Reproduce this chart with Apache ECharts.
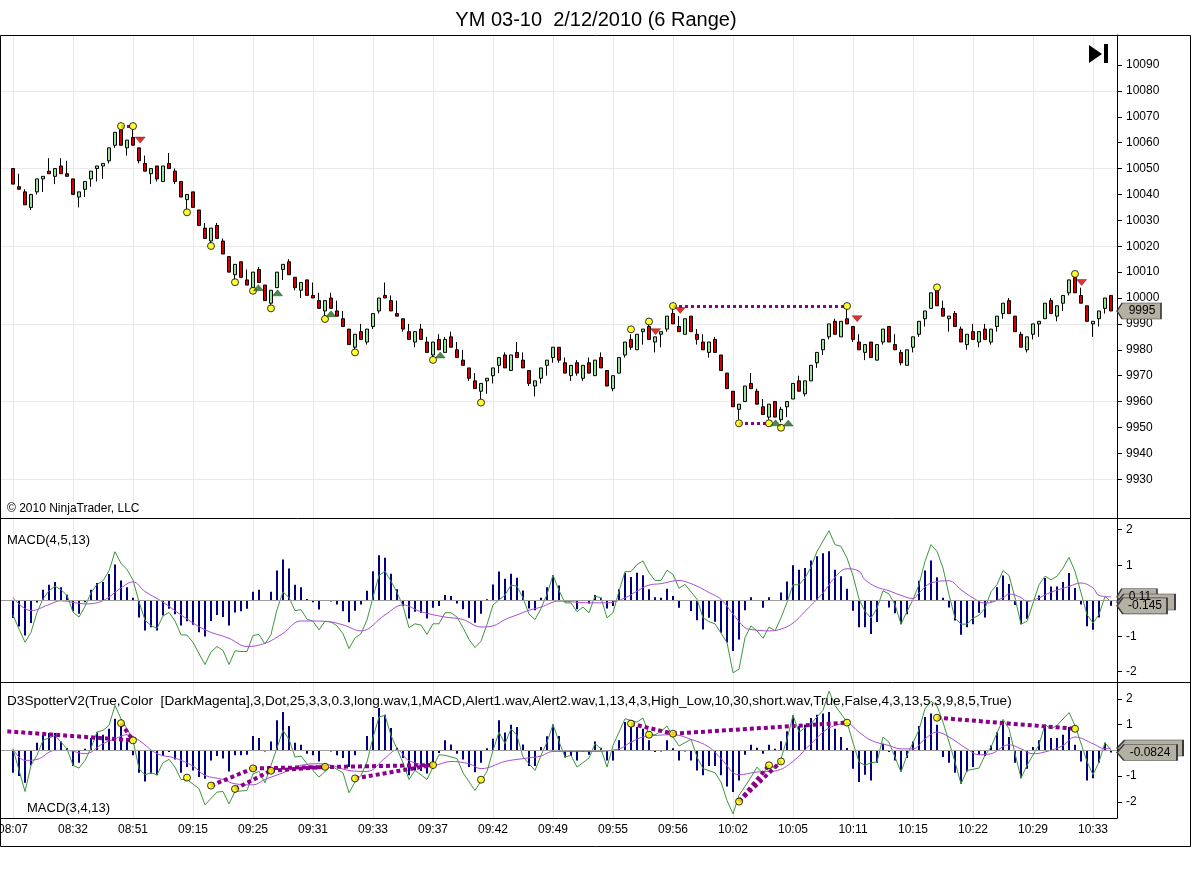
<!DOCTYPE html>
<html><head><meta charset="utf-8">
<script src="https://cdn.jsdelivr.net/npm/echarts@6/dist/echarts.min.js"></script>
<style>html,body{margin:0;padding:0;background:#fff}#c{width:1192px;height:869px}</style>
</head><body><div id="c"></div>
<script>
// ---------- data ----------
const timeLabels = ['08:07','08:32','08:51','09:15','09:25','09:31','09:33','09:37','09:42','09:49','09:55','09:56','10:02','10:05','10:11','10:15','10:22','10:29','10:33'];
const timeTickIndex = [0,10,20,30,40,50,60,70,80,90,100,110,120,130,140,150,160,170,180];
const priceTicks = [9930,9940,9950,9960,9970,9980,9990,10000,10010,10020,10030,10040,10050,10060,10070,10080,10090];
const priceGridValues = [9930,9960,9990,10020,10050,10080];
const macdTicks = [-2,-1,1,2];

const open = [10050,10043,10041,10035,10041,10046,10049,10047,10051,10048,
10046,10039,10042,10046,10050,10051,10053,10059,10065,10058,
10062,10058,10052,10048,10051,10045,10052,10049,10045,10038,
10041,10034,10027,10022,10028,10022,10016,10009,10014,10007,
10004,10011,10005,9998,10004,10011,10014,10008,10003,10007,
10001,9999,9995,10000,9995,9992,9988,9981,9987,9983,
9989,9995,10001,9999,9994,9992,9987,9983,9988,9983,
9978,9984,9979,9985,9980,9976,9973,9968,9964,9968,
9970,9974,9978,9972,9979,9976,9972,9966,9969,9974,
9977,9981,9975,9970,9975,9969,9975,9970,9977,9972,
9965,9971,9978,9984,9980,9987,9989,9983,9986,9988,
9994,9989,9986,9993,9986,9983,9979,9984,9978,9971,
9964,9957,9960,9967,9964,9958,9954,9960,9953,9958,
9961,9968,9963,9968,9975,9980,9985,9991,9985,9992,
9989,9983,9979,9983,9976,9983,9989,9982,9979,9974,
9981,9986,9992,9996,10003,9996,9992,9994,9988,9982,
9987,9983,9988,9983,9989,9994,9999,9993,9986,9980,
9986,9990,9992,9999,9993,9998,10002,10008,10001,9997,
9990,9992,9996,10001];
const close = [10044,10042,10036,10040,10046,10047,10048,10050,10048,10047,
10040,10041,10045,10049,10051,10052,10058,10064,10059,10061,
10059,10053,10049,10050,10046,10051,10050,10045,10039,10040,
10035,10028,10023,10027,10023,10017,10010,10013,10008,10005,
10010,10006,9999,10003,10010,10013,10009,10004,10006,10001,
10000,9996,9999,9996,9993,9989,9982,9986,9984,9988,
9994,10000,10000,9995,9993,9988,9984,9987,9984,9979,
9983,9980,9984,9981,9977,9974,9969,9965,9967,9969,
9973,9977,9973,9978,9977,9973,9967,9968,9973,9976,
9981,9976,9971,9974,9971,9974,9971,9976,9973,9966,
9970,9977,9983,9981,9986,9988,9984,9985,9987,9993,
9990,9987,9992,9987,9984,9980,9983,9979,9972,9965,
9958,9959,9966,9965,9959,9955,9959,9954,9957,9960,
9967,9964,9968,9974,9979,9984,9990,9986,9991,9990,
9984,9980,9982,9977,9982,9988,9983,9980,9975,9980,
9985,9991,9995,10002,9997,9993,9993,9989,9983,9986,
9984,9987,9984,9988,9993,9998,9994,9987,9981,9985,
9990,9991,9998,9994,9997,10001,10007,10002,9998,9991,
9991,9995,10000,9995];
const high = [10050,10048,10042,10040,10046,10047,10054,10050,10054,10053,
10046,10041,10045,10049,10051,10052,10058,10064,10065,10061,
10065,10058,10055,10050,10051,10051,10056,10050,10045,10040,
10041,10034,10029,10027,10029,10023,10016,10013,10014,10011,
10010,10012,10005,10003,10010,10013,10015,10008,10006,10007,
10006,10002,9999,10002,9999,9995,9988,9986,9990,9988,
9994,10000,10006,10001,9999,9992,9990,9987,9990,9985,
9983,9986,9985,9987,9983,9980,9973,9971,9967,9969,
9973,9977,9979,9978,9983,9979,9972,9968,9973,9976,
9981,9981,9977,9974,9976,9974,9977,9976,9979,9972,
9970,9977,9983,9986,9986,9988,9990,9985,9987,9993,
9996,9993,9992,9993,9988,9986,9983,9985,9978,9971,
9964,9959,9966,9971,9965,9961,9959,9960,9958,9960,
9967,9970,9968,9974,9979,9984,9990,9992,9991,9996,
9989,9986,9982,9983,9982,9988,9989,9986,9980,9980,
9985,9991,9995,10002,10003,9999,9993,9995,9989,9986,
9990,9987,9990,9988,9993,9998,10000,9993,9987,9985,
9990,9991,9998,10000,9997,10001,10007,10008,10004,9997,
9991,9995,10000,10001];
const low = [10044,10042,10036,10034,10040,10041,10048,10044,10048,10047,
10040,10035,10039,10043,10045,10046,10052,10058,10059,10055,
10059,10052,10049,10044,10045,10045,10050,10044,10039,10034,
10035,10028,10023,10021,10023,10017,10010,10007,10008,10005,
10004,10006,9999,9997,10004,10007,10009,10003,10000,10001,
10000,9996,9993,9996,9993,9989,9982,9980,9984,9982,
9988,9994,10000,9995,9993,9987,9984,9981,9984,9979,
9977,9980,9979,9981,9977,9974,9968,9965,9961,9963,
9967,9971,9973,9972,9977,9973,9966,9962,9967,9970,
9975,9975,9971,9968,9970,9968,9971,9970,9973,9966,
9964,9971,9977,9980,9980,9982,9984,9979,9981,9987,
9990,9987,9986,9987,9982,9980,9977,9979,9972,9965,
9958,9953,9960,9965,9959,9955,9953,9954,9952,9954,
9961,9964,9962,9968,9973,9978,9984,9986,9985,9990,
9983,9980,9976,9977,9976,9982,9983,9980,9974,9974,
9979,9985,9989,9996,9997,9993,9987,9989,9983,9980,
9984,9981,9984,9982,9987,9992,9994,9987,9981,9979,
9984,9985,9992,9994,9991,9995,10001,10002,9998,9991,
9985,9989,9994,9995];

const priceDots = [[18,10066.4],[20,10066.4],[29,10033.1],[33,10020.1],[37,10006.1],[40,10002.8],[43,9996.0],[52,9991.9],[57,9979.0],[70,9976.1],[78,9959.6],[103,9987.9],[106,9990.9],[110,9996.9],[121,9951.6],[126,9951.6],[128,9949.9],[139,9996.9],[154,10004.1],[177,10009.3]];
const sellSignals = [[21.2,10061.0],[107.1,9987.0],[111.2,9995.2],[140.7,9992.0],[178.1,10006.0]];
const buySignals = [[40.9,10004.0],[44.1,10002.0],[53,9993.9],[71.2,9978.0],[127.1,9951.8],[129.2,9951.7]];
const priceDivLines = [[[18,10066.4],[20,10066.4]],[[110,9996.9],[139,9996.9]],[[121,9951.6],[126,9951.6]]];
const lastPrice = 9995;

// MACD(4,5,13)
const hist2 = [-0.49,-0.73,-0.98,-0.63,-0.05,0.31,0.45,0.53,0.38,0.17,
-0.30,-0.37,-0.04,0.31,0.50,0.53,0.75,1.02,0.57,0.38,
0.08,-0.47,-0.84,-0.75,-0.84,-0.42,-0.23,-0.38,-0.70,-0.58,
-0.68,-0.89,-1.01,-0.57,-0.40,-0.46,-0.70,-0.33,-0.30,-0.23,
0.25,0.31,0.02,0.25,0.85,1.16,0.91,0.45,0.38,0.05,
-0.04,-0.25,0.01,-0.02,-0.11,-0.30,-0.61,-0.28,-0.11,0.28,
0.83,1.28,1.21,0.76,0.32,
-0.15,-0.50,-0.31,-0.34,-0.50,-0.20,-0.15,0.16,0.13,-0.08,
-0.24,-0.48,-0.62,-0.37,0.04,0.46,0.82,0.62,0.76,0.65,
0.29,-0.22,-0.27,0.08,0.38,0.72,0.43,-0.03,0.01,-0.24,
-0.01,-0.08,0.16,0.08,-0.22,-0.15,0.32,0.79,0.67,0.79,
0.72,0.32,0.10,0.08,0.34,0.13,-0.20,-0.01,-0.29,-0.55,
-0.81,-0.48,-0.59,-0.90,-1.18,-1.42,-1.09,-0.27,0.10,0.0,
-0.20,0.10,0.0,0.23,0.54,
1.0,0.87,0.92,1.13,1.25,1.34,1.39,0.87,0.69,0.34,
-0.28,-0.75,-0.75,-0.94,-0.60,0.01,-0.19,-0.35,-0.66,-0.38,
0.01,0.56,0.85,1.13,0.66,0.08,-0.19,-0.56,-0.96,-0.75,
-0.66,-0.34,-0.47,-0.02,0.38,0.71,0.47,-0.12,-0.66,-0.51,
0.01,0.15,0.64,0.40,0.40,0.53,0.78,0.36,-0.11,-0.72,
-0.82,-0.47,0.02,-0.145];
const macd2 = [[0,-0.40],[1,-0.80],[2,-1.17],[3,-0.89],[4,-0.33],[5,0.05],[6,0.28],[7,0.41],[8,0.31],[9,0.15],[10,-0.32],[11,-0.46],[12,-0.16],[13,0.22],[14,0.46],[15,0.56],[16,0.84],[17,1.38],[18,1.05],[19,0.88],[20,0.58],[21,-0.03],[22,-0.55],[23,-0.70],[24,-0.78],[25,-0.43],[26,-0.33],[27,-0.57],[28,-0.96],[29,-0.97],[30,-1.17],[31,-1.49],[32,-1.80],[33,-1.44],[34,-1.29],[35,-1.40],[36,-1.80],[37,-1.41],[38,-1.43],[39,-1.43],[40,-0.98],[41,-0.95],[42,-1.22],[43,-0.95],[44,-0.25],[45,0.25],[46,0.09],[47,-0.28],[48,-0.25],[49,-0.52],[50,-0.58],[51,-0.82],[52,-0.58],[53,-0.60],[54,-0.71],[55,-0.93],[56,-1.35],[57,-1.05],[58,-0.93],[59,-0.54],[60,0.10],[61,0.71],[62,0.83],[63,0.55],[64,0.23],[65,-0.15],[66,-0.76],[67,-0.65],[68,-0.69],[69,-0.95],[70,-0.65],[71,-0.65],[72,-0.34],[73,-0.34],[74,-0.46],[75,-0.76],[76,-1.09],[77,-1.32],[78,-1.14],[79,-0.67],[80,-0.12],[82,0.16],[83,0.44],[84,0.41],[85,0.08],[86,-0.38],[87,-0.53],[88,-0.22],[89,0.18],[90,0.72],[91,0.29],[92,-0.06],[93,-0.06],[94,-0.31],[95,-0.18],[96,-0.34],[97,0.13],[98,0.08],[99,-0.48],[100,-0.34],[101,0.27],[102,0.82],[103,0.82],[104,1.02],[105,1.12],[106,0.79],[107,0.57],[108,0.57],[109,0.86],[110,0.74],[111,0.35],[112,0.46],[114,0.04],[115,-0.48],[116,-0.59],[117,-0.65],[119,-1.18],[120,-2.03],[121,-1.93],[122,-1.04],[123,-0.71],[124,-0.85],[125,-1.06],[126,-0.74],[127,-0.85],[128,-0.48],[129,-0.05],[130,0.45],[131,0.45],[132,0.64],[133,0.94],[134,1.39],[136,1.97],[137,1.58],[138,1.53],[139,1.20],[140,0.70],[141,0.05],[142,-0.30],[143,-0.49],[144,-0.21],[145,0.28],[146,0.19],[147,-0.11],[148,-0.66],[149,-0.30],[150,0.03],[151,0.45],[152,1.11],[153,1.58],[154,1.39],[155,0.92],[156,0.17],[157,-0.49],[158,-0.66],[159,-0.66],[160,-0.49],[161,-0.41],[162,-0.21],[163,0.25],[164,0.45],[165,0.85],[166,0.71],[167,0.08],[168,-0.66],[169,-0.58],[170,-0.07],[171,0.45],[172,0.69],[173,0.59],[174,0.69],[175,0.92],[176,1.22],[177,0.83],[178,0.22],[179,-0.39],[180,-0.63],[181,-0.39],[182,0.12],[183,-0.03]];
const signal2 = [[0,0.09],[3,-0.28],[6,-0.11],[8,0],[12,-0.09],[15,0],[18,0.36],[20,0.53],[22,0.26],[25,-0.04],[28,-0.40],[32,-0.82],[36,-1.06],[39,-1.29],[42,-1.20],[45,-0.92],[48,-0.57],[52,-0.58],[55,-0.68],[58,-0.85],[62,-0.40],[65,-0.12],[68,-0.31],[72,-0.46],[75,-0.53],[78,-0.74],[80,-0.71],[82,-0.53],[84,-0.40],[86,-0.27],[88,-0.18],[91,-0.01],[93,-0.03],[96,-0.06],[99,-0.06],[102,0.08],[104,0.27],[106,0.44],[108,0.48],[111,0.57],[112,0.54],[114,0.41],[116,0.23],[118,0.04],[120,-0.38],[122,-0.76],[123,-0.81],[126,-0.85],[128,-0.80],[130,-0.63],[132,-0.30],[135,0.22],[137,0.66],[139,0.90],[141,0.83],[142,0.59],[144,0.38],[146,0.28],[148,0.15],[150,0.06],[151,0.22],[153,0.50],[156,0.56],[158,0.31],[160,0.08],[162,-0.07],[165,0.08],[166,0.19],[168,0.09],[169,-0.02],[171,0.08],[173,0.24],[176,0.40],[178,0.50],[180,0.36],[181,0.15],[183,0.11]];
const macd2Last = -0.035, signal2Last = 0.11;

// D3SpotterV2 / MACD(3,4,13)
const hist3 = [-0.87,-1.0,-1.26,-0.58,0.30,0.61,0.68,0.68,0.35,0.09,
-0.61,-0.48,0.06,0.48,0.71,0.61,0.84,1.23,0.91,0.45,
-0.19,-0.87,-1.21,-0.91,-0.97,-0.22,-0.06,-0.35,-0.87,-0.65,
-0.78,-1.04,-1.10,-0.39,-0.22,-0.32,-0.82,-0.19,-0.19,-0.17,
0.56,0.48,-0.04,0.35,1.17,1.49,0.95,0.30,0.22,-0.13,
-0.19,-0.43,0.01,-0.04,-0.19,-0.30,-0.65,-0.19,0.01,0.56,
1.30,1.65,1.39,0.87,
0.1,-0.3,-0.97,-0.78,-0.8,-0.9,-0.5,-0.1,0.39,0.23,
-0.13,-0.35,-0.65,-0.85,-0.48,0.08,0.45,1.17,0.70,1.0,
0.91,0.23,-0.61,-0.61,0.13,0.55,1.01,0.56,-0.28,-0.22,
-0.39,-0.06,-0.17,0.35,0.1,-0.39,-0.39,0.39,1.1,0.91,
0.91,0.84,0.39,-0.06,-0.04,0.39,0.08,-0.39,-0.04,-0.39,
-0.78,-0.97,-0.61,-0.61,-0.97,-1.4,-1.62,-1.17,-0.17,0.22,
0.1,-0.13,0.22,0.06,0.36,
0.74,1.36,0.95,1.0,1.26,1.39,1.43,1.49,0.84,0.52,
0.09,-0.71,-1.23,-0.95,-1.17,-0.48,0.26,-0.06,-0.39,-0.82,
-0.30,0.35,0.95,1.30,1.43,1.0,-0.26,-0.48,-0.87,-1.30,
-0.82,-0.65,-0.17,-0.22,0.19,0.71,1.10,0.52,-0.48,-1.08,
-0.71,0.13,0.39,1.0,0.48,0.48,0.61,0.91,0.22,-0.43,
-1.17,-1.08,-0.48,0.3,-0.0824];
const macd3 = [[0,0.06],[2,-1.60],[3,-0.58],[4,-0.19],[5,0.39],[7,0.58],[8,0.32],[9,0.06],[10,-0.58],[11,-0.69],[12,-0.39],[13,0.09],[14,0.71],[15,0.78],[16,0.97],[17,1.75],[18,1.23],[19,0.84],[20,0.39],[21,-0.71],[22,-0.95],[23,-0.87],[24,-0.95],[25,-0.48],[26,-0.35],[27,-0.65],[28,-1.13],[29,-1.13],[31,-1.49],[32,-2.12],[34,-1.62],[35,-1.60],[36,-2.08],[37,-1.60],[39,-1.56],[40,-0.91],[41,-0.82],[42,-1.26],[43,-0.58],[45,0.78],[46,0.43],[47,-0.26],[48,-0.22],[49,-0.52],[51,-1.04],[53,-0.61],[55,-0.87],[56,-1.65],[57,-1.23],[58,-0.97],[59,-0.45],[60,0.50],[61,1.30],[62,1.36],[63,0.58],[64,0.06],[65,-0.48],[66,-1.13],[67,-0.78],[69,-1.13],[71,-0.17],[72,-0.19],[74,-0.32],[75,-0.87],[77,-1.56],[79,-0.82],[80,0],[81,0.71],[82,0.26],[83,0.84],[84,0.58],[85,-0.26],[87,-0.78],[88,-0.19],[89,0.32],[90,1.0],[91,0.35],[92,-0.26],[93,-0.19],[94,-0.65],[96,-0.30],[97,0.26],[98,0.06],[99,-0.65],[100,0.19],[101,0.71],[102,1.23],[104,1.10],[105,1.26],[106,0.61],[107,0.61],[108,0.74],[109,0.95],[110,0.52],[111,0.17],[113,0.43],[114,-0.26],[115,-0.71],[117,-0.87],[118,-1.23],[119,-1.95],[120,-2.47],[121,-1.75],[123,-1.04],[124,-0.65],[125,-0.91],[126,-0.56],[127,-0.71],[128,-0.32],[129,0.43],[130,1.36],[131,0.71],[133,1.04],[135,1.56],[136,2.30],[137,1.75],[139,1.10],[140,0.30],[141,-0.45],[142,-0.58],[143,-0.48],[144,-0.45],[145,0.52],[146,0.32],[148,-0.84],[149,-0.19],[150,0.30],[151,0.80],[152,1.62],[153,1.91],[154,1.73],[155,1.10],[157,-0.45],[158,-1.30],[159,-0.78],[161,-0.69],[162,-0.19],[163,0.13],[165,1.21],[166,0.84],[168,-1.08],[169,-0.58],[171,0.22],[172,1.0],[173,0.84],[174,0.97],[176,1.47],[177,0.97],[179,-0.43],[180,-0.95],[181,-0.45],[182,0.30],[183,0.00]];
const signal3 = [[0,0.06],[2,-0.39],[4,-0.35],[7,0],[9,0],[12,-0.13],[15,0.26],[17,0.45],[19,0.61],[21,0.39],[24,-0.13],[27,-0.30],[30,-0.61],[32,-0.97],[35,-1.13],[37,-1.30],[40,-1.34],[42,-1.13],[45,-0.87],[48,-0.58],[51,-0.52],[53,-0.58],[56,-0.78],[59,-0.82],[62,-0.30],[64,0.02],[66,-0.40],[70,-0.58],[73,-0.43],[76,-0.52],[78,-0.71],[82,-0.43],[85,-0.32],[88,-0.22],[90,-0.04],[93,-0.04],[97,-0.04],[101,0.06],[103,0.32],[105,0.52],[107,0.58],[110,0.61],[113,0.43],[116,0.13],[118,-0.32],[121,-0.95],[124,-0.84],[127,-0.80],[130,-0.43],[133,0.26],[136,0.87],[139,1.04],[141,0.71],[143,0.39],[146,0.19],[148,0.06],[150,0.06],[152,0.45],[154,0.71],[156,0.52],[159,0.06],[161,-0.17],[163,-0.13],[166,0.22],[168,0.06],[170,-0.13],[172,-0.06],[175,0.19],[177,0.52],[180,0.26],[182,0.06],[183,0.09]];
const dots3 = [[18,1.06],[20,0.39],[29,-1.06],[33,-1.37],[37,-1.50],[40,-0.70],[43,-0.79],[52,-0.64],[57,-1.09],[70,-0.57],[78,-1.14],[103,1.04],[106,0.61],[110,0.65],[121,-1.99],[126,-0.58],[128,-0.43],[139,1.08],[154,1.27],[177,0.84]];
const divLines3 = [[[-0.95,0.74],[20,0.39]],[[18,1.06],[20,0.39]],[[33,-1.37],[40,-0.70]],[[37,-1.50],[43,-0.79]],[[40,-0.70],[70,-0.57]],[[43,-0.79],[52,-0.64]],[[57,-1.09],[70,-0.57]],[[103,1.04],[110,0.65]],[[110,0.65],[139,1.08]],[[121,-1.99],[126,-0.58]],[[121,-1.99],[128,-0.43]],[[154,1.27],[177,0.84]]];
const signal3Last = 0.09;

// ---------- chart ----------
const FONT = '"Liberation Sans", Arial, sans-serif';
const XMIN = -13/6, XMAX = 184;
const GRID_LINE = '#e9e9e9';
const chart = echarts.init(document.getElementById('c'), null, {renderer:'canvas'});

function xAxis(g){
  return {type:'value', gridIndex:g, min:XMIN, max:XMAX,
    axisLine:{show:g===2, onZero:false, lineStyle:{color:'#000', width:1}},
    axisTick:{show:false, customValues:timeTickIndex},
    axisLabel:{show:g===2, customValues:timeTickIndex, margin:6, fontSize:12, color:'#000', fontFamily:FONT,
      formatter:(v)=>timeLabels[Math.round(v/10)] || ''},
    splitLine:{show:true, lineStyle:{color:GRID_LINE, width:1}}};
}
function yAxisRight(g, min, max, ticks){
  return {type:'value', gridIndex:g, position:'right', min:min, max:max,
    axisLine:{show:true, onZero:false, lineStyle:{color:'#000'}},
    axisTick:{show:true, length:5, customValues:ticks, lineStyle:{color:'#000'}},
    axisLabel:{customValues:ticks, fontSize:12, color:'#000', margin:9, fontFamily:FONT, formatter:(v)=>String(v)},
    splitLine:{show:false}};
}
function flag(x, y, text, w){
  return {coord:[x,y], value:text, symbol:'path://M0,8L7,0L60,0L60,16L7,16Z', symbolSize:[w,16],
    symbolOffset:[w/2,0], symbolKeepAspect:false,
    itemStyle:{color:'#b4b1a4', borderColor:'#3a3a3a', borderWidth:1},
    label:{show:true, position:'inside', formatter:text, color:'#000', fontSize:12, fontFamily:FONT, offset:[3,0]}};
}
function divMark(lines, width, dash){
  return {silent:true, symbol:['none','none'], animation:false, label:{show:false},
    lineStyle:{color:'#8b008b', width:width, type:dash},
    emphasis:{disabled:true},
    data: lines.map(l=>[{coord:l[0]},{coord:l[1]}])};
}
const zeroLine = {silent:true, symbol:['none','none'], label:{show:false}, animation:false,
  lineStyle:{color:'#9c9c9c', type:'solid', width:1}, emphasis:{disabled:true}, data:[{yAxis:0}]};

const candles = open.map((o,i)=>[i, o, close[i], low[i], high[i]]);
const histData2 = hist2.map((v,i)=>[i,v]);
const histData3 = hist3.map((v,i)=>[i,v]);

const option = {
  animation:false,
  backgroundColor:'#fff',
  title:{text:'YM 03-10  2/12/2010 (6 Range)', left:'center', top:5,
    textStyle:{fontSize:20, fontWeight:'normal', color:'#000', fontFamily:FONT}},
  grid:[
    {left:0, top:35, width:1117, height:483, outerBoundsMode:'none', containLabel:false},
    {left:0, top:518, width:1117, height:164, outerBoundsMode:'none', containLabel:false},
    {left:0, top:682, width:1117, height:136, outerBoundsMode:'none', containLabel:false}
  ],
  xAxis:[xAxis(0), xAxis(1), xAxis(2)],
  yAxis:[
    yAxisRight(0, 9915.03, 10101.59, priceTicks),
    {type:'value', gridIndex:0, position:'left', min:9915.03, max:10101.59,
      axisLine:{show:false, onZero:false}, axisTick:{show:false, customValues:priceGridValues}, axisLabel:{show:false},
      splitLine:{show:true, lineStyle:{color:GRID_LINE}}},
    yAxisRight(1, -2.29, 2.33, macdTicks),
    yAxisRight(2, -2.63, 2.66, macdTicks)
  ],
  series:[
    {type:'candlestick', xAxisIndex:0, yAxisIndex:0, data:candles, encode:{x:0, y:[1,2,3,4]},
      barWidth:4, z:3,
      itemStyle:{color:'#98e398', color0:'#d40000', borderColor:'#000', borderColor0:'#000', borderWidth:1},
      markPoint:{silent:true, animation:false, data:[flag(XMAX, lastPrice, String(lastPrice), 44)]}},
    {type:'scatter', xAxisIndex:0, yAxisIndex:0, data:priceDots, symbolSize:7, z:5,
      itemStyle:{color:'#ffff00', borderColor:'#000', borderWidth:1},
      markLine:divMark(priceDivLines, 3, [3,3])},
    {type:'scatter', xAxisIndex:0, yAxisIndex:0, data:sellSignals, symbol:'triangle', symbolRotate:180,
      symbolSize:[10,6], z:6, itemStyle:{color:'#d40000', borderColor:'#700', borderWidth:0.5}},
    {type:'scatter', xAxisIndex:0, yAxisIndex:0, data:buySignals, symbol:'triangle',
      symbolSize:[10,6], z:6, itemStyle:{color:'#1f6b1f', borderColor:'#0d3d0d', borderWidth:0.5}},

    {type:'bar', xAxisIndex:1, yAxisIndex:2, data:histData2, barWidth:2, itemStyle:{color:'#000080'},
      markLine:zeroLine,
      markPoint:{silent:true, animation:false, data:[
        flag(XMAX, signal2Last, '0.11', 40), flag(XMAX, macd2Last, '', 58), flag(XMAX, hist2[hist2.length-1], '-0.145', 50)]}},
    {type:'line', xAxisIndex:1, yAxisIndex:2, data:macd2, symbol:'none', z:4,
      lineStyle:{color:'#3d963d', width:1}},
    {type:'line', xAxisIndex:1, yAxisIndex:2, data:signal2, symbol:'none', smooth:0.4, z:4,
      lineStyle:{color:'#a64fd6', width:1}},

    {type:'bar', xAxisIndex:2, yAxisIndex:3, data:histData3, barWidth:2, itemStyle:{color:'#000080'},
      markLine:zeroLine,
      markPoint:{silent:true, animation:false, data:[
        flag(XMAX, signal3Last, '', 66), flag(XMAX, hist3[hist3.length-1], '-0.0824', 60)]}},
    {type:'line', xAxisIndex:2, yAxisIndex:3, data:macd3, symbol:'none', z:4,
      lineStyle:{color:'#3d963d', width:1}},
    {type:'line', xAxisIndex:2, yAxisIndex:3, data:signal3, symbol:'none', smooth:0.4, z:4,
      lineStyle:{color:'#a64fd6', width:1}},
    {type:'scatter', xAxisIndex:2, yAxisIndex:3, data:dots3, symbolSize:7, z:5,
      itemStyle:{color:'#ffff00', borderColor:'#000', borderWidth:1},
      markLine:divMark(divLines3, 4, [4,3])}
  ],
  graphic:[
    {type:'rect', silent:true, z:100, shape:{x:0.5, y:35.5, width:1190, height:811},
      style:{fill:'none', stroke:'#000', lineWidth:1}},
    {type:'line', silent:true, z:100, shape:{x1:0, y1:518.5, x2:1190, y2:518.5}, style:{stroke:'#000', lineWidth:1}},
    {type:'line', silent:true, z:100, shape:{x1:0, y1:682.5, x2:1190, y2:682.5}, style:{stroke:'#000', lineWidth:1}},
    {type:'polygon', silent:true, z:100, shape:{points:[[1089,45],[1089,63],[1102,54]]}, style:{fill:'#000'}},
    {type:'rect', silent:true, z:100, shape:{x:1104, y:44, width:4, height:19}, style:{fill:'#000'}},
    {type:'text', silent:true, z:100, x:7, y:509, style:{text:'© 2010 NinjaTrader, LLC', font:'12px '+FONT, fill:'#000', textVerticalAlign:'middle', verticalAlign:'middle'}},
    {type:'text', silent:true, z:100, x:7, y:540, style:{text:'MACD(4,5,13)', font:'13px '+FONT, fill:'#000', textVerticalAlign:'middle', verticalAlign:'middle'}},
    {type:'text', silent:true, z:100, x:7, y:701, style:{text:'D3SpotterV2(True,Color  [DarkMagenta],3,Dot,25,3,3,0.3,long.wav,1,MACD,Alert1.wav,Alert2.wav,1,13,4,3,High_Low,10,30,short.wav,True,False,4,3,13,5,3,9,8,5,True)', font:'13.6px '+FONT, fill:'#000', textVerticalAlign:'middle', verticalAlign:'middle'}},
    {type:'text', silent:true, z:100, x:27, y:808, style:{text:'MACD(3,4,13)', font:'13px '+FONT, fill:'#000', textVerticalAlign:'middle', verticalAlign:'middle'}}
  ]
};
chart.setOption(option);
</script>
</body></html>
